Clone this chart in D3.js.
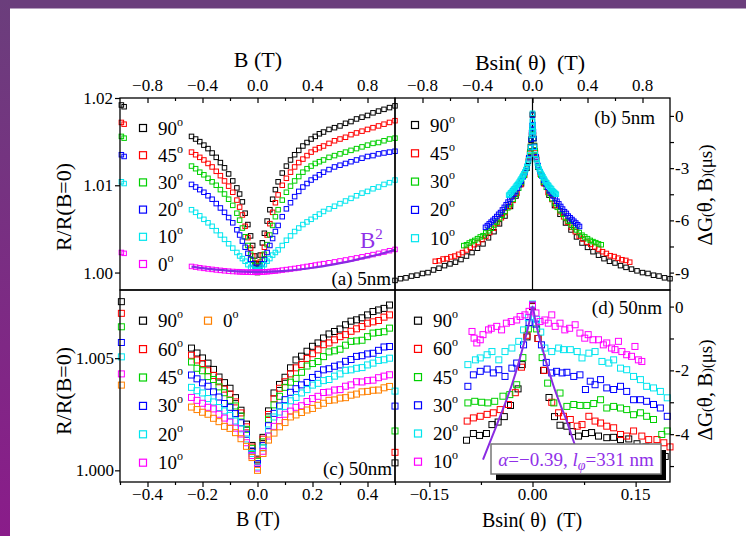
<!DOCTYPE html>
<html>
<head>
<meta charset="utf-8">
<script src="https://cdn.jsdelivr.net/npm/d3@7/dist/d3.min.js"></script>
<style>
html,body{margin:0;padding:0;background:#fff;}
svg{display:block;}
text{font-family:"Liberation Serif","Times New Roman",Times,serif;}
</style>
</head>
<body>
<svg id="chart" width="746" height="536"></svg>
<script>
// ================= DATA =================
// Panel (a) 5 nm : R/R(B=0) vs B ; values stored as (R/R0 - 1) x 1000
const aField = [-0.99,-0.97,-0.48,-0.45,-0.42,-0.39,-0.36,-0.33,-0.30,-0.27,-0.24,-0.21,-0.18,-0.15,-0.13,-0.11,-0.09,-0.07,-0.05,-0.035,-0.02,-0.01,0,0.01,0.02,0.035,0.05,0.07,0.09,0.11,0.13,0.15,0.18,0.21,0.24,0.27,0.30,0.33,0.36,0.39,0.42,0.45,0.48,0.52,0.56,0.60,0.64,0.68,0.72,0.76,0.80,0.84,0.88,0.92,0.96,1.00];
const a90 = [19.2,19.0,15.6,15.3,15.0,14.6,14.2,13.7,13.2,12.6,12.0,11.3,10.5,9.7,9.0,8.1,6.8,5.5,4.2,3.1,1.9,1.0,0.0,1.0,2.0,3.4,4.5,5.9,7.2,8.4,9.5,10.4,11.4,12.2,12.9,13.5,14.0,14.5,14.9,15.3,15.6,15.9,16.1,16.4,16.6,16.8,17.1,17.3,17.6,17.8,18.0,18.3,18.5,18.7,18.9,19.1];
const a45 = [17.2,17.0,13.8,13.5,13.2,12.9,12.5,12.1,11.6,11.1,10.5,9.9,9.2,8.3,7.5,6.6,5.3,4.0,2.8,1.9,1.1,0.5,0.1,0.6,1.2,2.0,2.9,4.3,5.6,6.9,8.0,8.9,10.0,10.8,11.5,12.1,12.6,13.0,13.4,13.8,14.1,14.3,14.5,14.8,15.1,15.3,15.5,15.8,16.0,16.2,16.4,16.6,16.8,17.0,17.2,17.4];
const a30 = [15.6,15.4,12.2,11.9,11.5,11.2,10.8,10.4,10.0,9.5,9.0,8.4,7.7,6.8,6.0,5.1,4.1,3.1,2.1,1.4,0.8,0.4,0.2,0.4,0.8,1.4,2.1,3.2,4.3,5.4,6.4,7.2,8.3,9.2,9.9,10.5,11.0,11.5,11.9,12.2,12.5,12.7,12.9,13.2,13.4,13.6,13.8,14.0,14.2,14.4,14.6,14.8,14.9,15.1,15.3,15.4];
const a20 = [13.5,13.3,10.1,9.8,9.5,9.2,8.8,8.4,7.9,7.4,6.9,6.3,5.7,4.9,4.3,3.6,2.9,2.2,1.5,1.0,0.6,0.3,0.15,0.3,0.6,1.0,1.5,2.3,3.1,3.9,4.7,5.4,6.4,7.3,8.0,8.7,9.3,9.8,10.2,10.6,10.9,11.2,11.5,11.8,12.1,12.3,12.5,12.7,12.9,13.1,13.3,13.4,13.6,13.7,13.8,13.9];
const a10 = [10.4,10.2,7.2,6.9,6.5,6.1,5.7,5.3,4.8,4.3,3.8,3.3,2.8,2.3,1.9,1.6,1.3,0.9,0.6,0.4,0.3,0.2,0.2,0.25,0.35,0.6,0.9,1.3,1.6,2.0,2.3,2.6,3.1,3.7,4.2,4.7,5.1,5.5,5.8,6.1,6.4,6.7,7.0,7.3,7.6,7.9,8.2,8.5,8.8,9.1,9.3,9.6,9.8,10.1,10.3,10.6];
const a0 = [2.3,2.2,0.7,0.62,0.55,0.48,0.42,0.36,0.3,0.25,0.2,0.16,0.12,0.1,0.08,0.06,0.05,0.04,0.03,0.03,0.03,0.03,0.03,0.04,0.05,0.06,0.07,0.09,0.12,0.15,0.18,0.22,0.28,0.34,0.4,0.47,0.54,0.62,0.7,0.78,0.86,0.94,1.02,1.12,1.22,1.33,1.44,1.56,1.68,1.8,1.93,2.06,2.2,2.35,2.5,2.65];
const aFitField = [-0.48,-0.4,-0.3,-0.2,-0.1,0,0.1,0.2,0.3,0.4,0.5,0.6,0.7,0.8,0.9,1.0];
const aFitVal = [0.68,0.5,0.33,0.2,0.11,0.07,0.1,0.2,0.35,0.55,0.8,1.08,1.4,1.76,2.16,2.6];
const aLabels = ["90","45","30","20","10","0"];

// Panel (b) 5 nm : ΔG(θ,B) (μS) vs B·sinθ ; field grid B (T), angle θ (deg)
const bAngles = [90,45,30,20,10];
const bField = [-1,-0.96,-0.92,-0.88,-0.84,-0.8,-0.76,-0.72,-0.68,-0.64,-0.6,-0.56,-0.52,-0.48,-0.44,-0.4,-0.36,-0.32,-0.28,-0.24,-0.2,-0.16,-0.12,-0.08,-0.04,-0.03,-0.02,-0.01,0,0.01,0.02,0.03,0.04,0.08,0.12,0.16,0.2,0.24,0.28,0.32,0.36,0.4,0.44,0.48,0.52,0.56,0.6,0.64,0.68,0.72,0.76,0.8,0.84,0.88,0.92,0.96,1];
const b90 = [-9.45,-9.35,-9.3,-9.2,-9.15,-9.05,-9.0,-8.85,-8.75,-8.6,-8.5,-8.4,-8.25,-8.05,-7.85,-7.6,-7.35,-7.0,-6.65,-6.2,-5.75,-5.2,-4.6,-3.9,-3.0,-2.6,-2.1,-1.4,0.1,-1.3,-2.0,-2.5,-2.95,-3.85,-4.55,-5.15,-5.65,-6.15,-6.55,-6.95,-7.3,-7.55,-7.8,-8.0,-8.2,-8.35,-8.45,-8.6,-8.7,-8.8,-8.9,-9.0,-9.05,-9.15,-9.2,-9.3,-9.35];
const b45 = [-8.35,-8.32,-8.22,-8.2,-8.1,-8.05,-7.95,-7.85,-7.7,-7.55,-7.4,-7.27,-7.1,-6.92,-6.7,-6.45,-6.15,-5.85,-5.55,-5.2,-4.85,-4.45,-3.95,-3.4,-2.45,-2.15,-1.75,-1.1,0.05,-1.1,-1.7,-2.1,-2.4,-3.35,-3.9,-4.4,-4.8,-5.15,-5.5,-5.8,-6.1,-6.4,-6.65,-6.9,-7.07,-7.25,-7.38,-7.52,-7.65,-7.8,-7.9,-8.03,-8.08,-8.17,-8.26,-8.3,-8.4];
const b30 = [-7.45,-7.4,-7.3,-7.22,-7.15,-7.05,-6.95,-6.88,-6.72,-6.6,-6.45,-6.27,-6.1,-5.9,-5.7,-5.5,-5.28,-5.05,-4.78,-4.5,-4.15,-3.8,-3.42,-2.92,-2.05,-1.75,-1.3,-0.8,0.05,-0.8,-1.3,-1.7,-2.0,-2.9,-3.4,-3.8,-4.1,-4.45,-4.75,-5.0,-5.25,-5.45,-5.65,-5.85,-6.05,-6.25,-6.4,-6.55,-6.7,-6.85,-6.95,-7.05,-7.15,-7.22,-7.28,-7.35,-7.4];
const b20 = [-6.4,-6.3,-6.2,-6.1,-6.0,-5.9,-5.78,-5.65,-5.55,-5.4,-5.25,-5.1,-4.95,-4.8,-4.65,-4.5,-4.35,-4.15,-3.95,-3.75,-3.5,-3.25,-2.9,-2.4,-1.8,-1.35,-0.95,-0.55,0.05,-0.5,-0.9,-1.3,-1.75,-2.35,-2.85,-3.2,-3.45,-3.7,-3.9,-4.1,-4.3,-4.45,-4.6,-4.75,-4.9,-5.05,-5.2,-5.35,-5.5,-5.6,-5.75,-5.85,-5.95,-6.05,-6.15,-6.25,-6.35];
const b10 = [-4.55,-4.5,-4.42,-4.38,-4.3,-4.22,-4.18,-4.1,-4.02,-3.95,-3.88,-3.8,-3.7,-3.62,-3.52,-3.42,-3.32,-3.22,-3.08,-2.92,-2.72,-2.52,-2.22,-1.82,-1.12,-0.9,-0.6,-0.3,0.15,-0.3,-0.6,-0.9,-1.1,-1.8,-2.2,-2.5,-2.7,-2.9,-3.05,-3.2,-3.3,-3.4,-3.5,-3.6,-3.7,-3.8,-3.85,-3.95,-4.0,-4.1,-4.15,-4.2,-4.3,-4.35,-4.4,-4.45,-4.5];

// Panel (c) 50 nm : R/R(B=0) vs B ; values stored as (R/R0 - 1) x 1000
const cField = [-0.495,-0.24,-0.22,-0.20,-0.18,-0.16,-0.14,-0.12,-0.10,-0.08,-0.06,-0.04,-0.02,0,0.02,0.04,0.06,0.08,0.10,0.12,0.14,0.16,0.18,0.20,0.22,0.24,0.26,0.28,0.30,0.32,0.34,0.36,0.38,0.40,0.42,0.44,0.46,0.48];
const c90 = [7.52,5.45,5.23,5.01,4.78,4.50,4.16,3.91,3.66,3.24,2.68,2.06,1.11,0.5,1.47,2.65,3.45,3.83,4.15,4.57,4.92,5.09,5.31,5.53,5.68,5.90,6.08,6.19,6.30,6.49,6.65,6.71,6.80,6.93,7.08,7.15,7.22,7.37];
const c60 = [7.0,5.13,4.92,4.76,4.44,4.23,3.95,3.62,3.40,3.05,2.56,1.94,1.04,0.45,1.39,2.49,3.19,3.66,3.95,4.30,4.57,4.72,4.99,5.20,5.37,5.60,5.68,5.82,5.96,6.05,6.20,6.31,6.41,6.56,6.62,6.68,6.83,6.93];
const c45 = [6.4,4.83,4.55,4.44,4.18,4.05,3.72,3.46,3.12,2.87,2.42,1.83,0.98,0.4,1.27,2.28,2.92,3.30,3.70,3.93,4.10,4.37,4.65,4.76,4.85,5.07,5.28,5.33,5.40,5.58,5.75,5.77,5.80,5.96,6.12,6.15,6.18,6.34];
const c30 = [5.7,4.25,4.08,3.90,3.75,3.50,3.27,2.98,2.81,2.53,2.12,1.61,0.86,0.3,1.10,1.99,2.54,2.87,3.15,3.48,3.64,3.81,3.92,4.14,4.28,4.48,4.53,4.64,4.70,4.86,4.94,5.08,5.11,5.19,5.22,5.35,5.50,5.52];
const c20 = [5.06,3.70,3.55,3.45,3.20,3.05,2.80,2.65,2.45,2.20,1.85,1.40,0.75,0.15,1.0,1.80,2.38,2.60,2.85,3.10,3.25,3.45,3.60,3.80,3.88,4.00,4.05,4.20,4.30,4.46,4.48,4.55,4.58,4.70,4.78,4.90,4.93,5.0];
const c10 = [4.3,3.25,3.12,2.99,2.81,2.74,2.50,2.33,2.15,1.88,1.62,1.23,0.66,0.1,0.85,1.53,1.96,2.22,2.50,2.64,2.81,2.88,3.07,3.20,3.30,3.47,3.49,3.58,3.60,3.75,3.81,3.95,3.94,4.00,4.02,4.13,4.20,4.26];
const c0 = [3.8,2.82,2.71,2.59,2.50,2.32,2.17,1.96,1.87,1.68,1.41,1.07,0.57,0.0,0.75,1.35,1.66,1.94,2.13,2.38,2.47,2.58,2.69,2.76,2.90,2.99,3.12,3.14,3.22,3.24,3.35,3.40,3.50,3.52,3.57,3.58,3.68,3.74];

// Panel (d) 50 nm : ΔG(θ,B) (μS) vs B·sinθ (T)
const d90x = [-0.2,-0.096,-0.086,-0.077,-0.067,-0.059,-0.05,-0.041,-0.032,-0.021,-0.015,-0.008,0,0.008,0.016,0.024,0.032,0.040,0.050,0.058,0.067,0.077,0.086,0.096,0.108,0.118,0.128,0.140,0.152,0.165,0.178,0.193];
const d90y = [-4.9,-4.19,-3.98,-4.04,-3.98,-3.7,-3.62,-3.45,-3.1,-2.58,-1.82,-0.95,0,-1.0,-2.0,-2.85,-3.45,-3.72,-3.75,-3.92,-4.06,-3.98,-3.95,-4.06,-4.11,-4.1,-4.17,-4.15,-4.3,-4.4,-4.5,-4.7];
const d60x = [-0.2,-0.095,-0.086,-0.076,-0.066,-0.057,-0.047,-0.035,-0.025,-0.016,-0.008,0,0.008,0.017,0.028,0.038,0.045,0.055,0.065,0.072,0.082,0.091,0.099,0.108,0.118,0.128,0.137,0.147,0.159,0.169,0.181,0.191,0.2];
const d60y = [-4.57,-3.59,-3.49,-3.44,-3.38,-3.33,-3.23,-3.07,-2.7,-1.9,-0.9,0.02,-1.0,-2.0,-3.0,-3.33,-3.44,-3.54,-3.75,-3.7,-3.44,-3.59,-3.65,-3.75,-3.8,-4.01,-4.06,-3.9,-4.06,-4.17,-4.17,-4.27,-4.4];
const d45x = [-0.2,-0.094,-0.084,-0.074,-0.065,-0.055,-0.043,-0.033,-0.023,-0.014,-0.006,0,0.006,0.014,0.022,0.031,0.040,0.050,0.060,0.069,0.079,0.089,0.099,0.108,0.118,0.128,0.137,0.147,0.157,0.166,0.176,0.188,0.196];
const d45y = [-3.9,-3.02,-2.97,-3.0,-3.02,-2.97,-2.81,-2.76,-2.45,-1.6,-0.7,0.05,-0.7,-1.6,-2.4,-3.02,-2.71,-3.13,-3.07,-3.1,-3.1,-3.04,-2.92,-3.18,-3.13,-3.18,-3.23,-3.39,-3.33,-3.44,-3.54,-4.01,-3.9];
const d30x = [-0.2,-0.094,-0.086,-0.076,-0.066,-0.057,-0.049,-0.040,-0.030,-0.023,-0.013,-0.005,0,0.005,0.013,0.020,0.028,0.035,0.043,0.050,0.060,0.069,0.077,0.084,0.091,0.099,0.108,0.118,0.128,0.137,0.147,0.157,0.166,0.176,0.186,0.196];
const d30y = [-3.12,-2.5,-2.14,-2.03,-1.96,-2.08,-1.98,-2.19,-1.93,-1.77,-1.2,-0.5,0.05,-0.55,-1.2,-1.75,-2.08,-2.03,-2.08,-2.06,-2.19,-2.14,-2.6,-2.34,-2.45,-2.29,-2.55,-2.6,-2.5,-2.66,-2.92,-2.92,-2.97,-3.07,-3.18,-3.44];
const d20x = [-0.2,-0.094,-0.083,-0.076,-0.066,-0.059,-0.049,-0.040,-0.030,-0.020,-0.013,-0.006,0,0.006,0.012,0.018,0.028,0.038,0.045,0.055,0.065,0.072,0.082,0.091,0.101,0.111,0.118,0.128,0.137,0.147,0.157,0.166,0.176,0.186,0.196];
const d20y = [-2.65,-1.82,-1.67,-1.61,-1.51,-1.41,-1.67,-1.41,-1.3,-1.09,-0.73,-0.35,0.08,-0.4,-0.8,-1.3,-1.41,-1.3,-1.35,-1.35,-1.41,-1.61,-1.46,-1.41,-1.72,-1.77,-1.67,-1.93,-1.98,-2.19,-2.29,-2.5,-2.55,-2.66,-2.86];
const d10x = [-0.088,-0.085,-0.081,-0.076,-0.072,-0.064,-0.060,-0.052,-0.045,-0.038,-0.031,-0.023,-0.018,-0.011,-0.005,0,0.005,0.011,0.018,0.023,0.028,0.033,0.040,0.047,0.054,0.062,0.069,0.076,0.081,0.088,0.096,0.103,0.108,0.115,0.120,0.125,0.130,0.137,0.144,0.149,0.154,0.159];
const d10y = [-0.78,-0.99,-1.14,-1.04,-0.88,-0.73,-0.68,-0.62,-0.73,-0.52,-0.47,-0.42,-0.31,-0.26,-0.15,0.05,-0.2,-0.47,-0.42,-0.52,-0.26,-0.62,-0.52,-0.73,-0.68,-0.57,-0.83,-0.99,-0.88,-1.04,-1.04,-1.2,-1.14,-1.3,-1.35,-1.09,-1.41,-1.51,-1.56,-1.25,-1.67,-1.72];
const dFitX = [-0.072,-0.06,-0.05,-0.04,-0.03,-0.02,-0.013,-0.008,-0.004,0,0.004,0.008,0.013,0.02,0.03,0.04,0.05,0.057,0.066];
const dFitY = [-4.8,-4.15,-3.6,-3.05,-2.45,-1.75,-1.2,-0.8,-0.42,0,-0.42,-0.8,-1.2,-1.75,-2.45,-3.05,-3.6,-4.05,-4.6];
const cLabels = ["90","60","45","30","20","10","0"];

// tick values
const aTopTicks = [-0.8,-0.4,0.0,0.4,0.8];
const aTopMinor = [-0.6,-0.2,0.2,0.6];
const aLeftTicks = [1.00,1.01,1.02];
const bRightTicks = [0,-3,-6,-9];
const bRightMinor = [-1.5,-4.5,-7.5];
const cBottomTicks = [-0.4,-0.2,0.0,0.2,0.4];
const cBottomMinor = [-0.5,-0.3,-0.1,0.1,0.3,0.5];
const cLeftTicks = [1.000,1.005];
const dBottomTicks = [-0.15,0.00,0.15];
const dBottomMinor = [-0.075,0.075];
const dRightTicks = [0,-2,-4];
const dRightMinor = [-1,-3,-5];

// ================= DRAWING =================
const svg = d3.select("#chart");
const BLACK="#000000", RED="#ff0000", GREEN="#00d000", BLUE="#0000ff", CYAN="#00e5ee", MAG="#ff00ff", ORANGE="#ff8000", PURPLE="#9030e8";

// page decoration
const defs = svg.append("defs");
const lg = defs.append("linearGradient").attr("id","lband").attr("x1",0).attr("y1",0).attr("x2",0).attr("y2",1);
lg.append("stop").attr("offset","0%").attr("stop-color","#6b3e7c");
lg.append("stop").attr("offset","100%").attr("stop-color","#8a1c8a");
svg.append("rect").attr("x",0).attr("y",0).attr("width",746).attr("height",536).attr("fill","#fff");
svg.append("rect").attr("x",0).attr("y",0).attr("width",746).attr("height",8.5).attr("fill","#6b3e7c");
svg.append("rect").attr("x",0).attr("y",0).attr("width",10).attr("height",536).attr("fill","url(#lband)");

// scales
const xa = d3.scaleLinear().domain([-1,1]).range([120,395]);
const ya = d3.scaleLinear().domain([0.998,1.02]).range([290,98]);
const xb = d3.scaleLinear().domain([-1,1]).range([395,670]);
const yb = d3.scaleLinear().domain([-10,1.03]).range([290,98]);
const xc = d3.scaleLinear().domain([-0.5,0.5]).range([120,395]);
const yc = d3.scaleLinear().domain([0.99948,1.00804]).range([482,290]);
const xd = d3.scaleLinear().domain([-0.2,0.2]).range([395,670]);
const yd = d3.scaleLinear().domain([-5.5,0.52]).range([482,290]);

function tickAxis(gen, scale, vals, size, tx, ty){
  const g = svg.append("g").attr("transform",`translate(${tx},${ty})`)
    .call(gen(scale).tickValues(vals).tickSizeInner(size).tickSizeOuter(0).tickFormat(""));
  g.select(".domain").remove();
  g.selectAll("line").attr("stroke","#000").attr("stroke-width",1.2);
}
function label(x,y,str,size,anchor,fill){
  return svg.append("text").attr("x",x).attr("y",y).attr("font-size",size)
    .attr("text-anchor",anchor||"middle").attr("fill",fill||"#000").text(str);
}
function squares(xs, ys, xS, yS, color, size){
  const data = xs.map((x,i)=>[x,ys[i]]);
  svg.append("g").selectAll("rect").data(data).join("rect")
    .attr("x",d=>xS(d[0])-size/2).attr("y",d=>yS(d[1])-size/2)
    .attr("width",size).attr("height",size)
    .attr("fill","none").attr("stroke",color).attr("stroke-width",1);
}
function legendRow(x,y,color,lab){
  svg.append("rect").attr("x",x-3.5).attr("y",y-3.5).attr("width",7).attr("height",7)
    .attr("fill","none").attr("stroke",color).attr("stroke-width",1.2);
  const t = svg.append("text").attr("x",x+15).attr("y",y+6.5).attr("font-size",19);
  t.append("tspan").text(lab);
  t.append("tspan").attr("font-size",12).attr("dy",-9).text("o");
}
const fmt1 = d3.format(".1f"), fmt2 = d3.format(".2f"), fmt3 = d3.format(".3f");

// ---------- Panel (a) ----------
const aSeries = [[a90,BLACK],[a45,RED],[a30,GREEN],[a20,BLUE],[a10,CYAN],[a0,MAG]];
aSeries.forEach(([v,c])=> squares(aField, v.map(d=>1+d/1000), xa, ya, c, 4.5));
svg.append("path").datum(aFitField.map((b,i)=>[b,1+aFitVal[i]/1000]))
  .attr("d", d3.line().x(d=>xa(d[0])).y(d=>ya(d[1])).curve(d3.curveMonotoneX))
  .attr("fill","none").attr("stroke","#8a2be2").attr("stroke-width",2.2);
aSeries.forEach(([v,c],i)=> legendRow(143, 128+i*27.2, c, aLabels[i]));
const b2 = svg.append("text").attr("x",360).attr("y",248).attr("font-size",23).attr("fill",PURPLE);
b2.append("tspan").text("B"); b2.append("tspan").attr("font-size",15).attr("dy",-9).text("2");
label(391,285,"(a) 5nm",19,"end");

// ---------- Panel (b) ----------
svg.append("line").attr("x1",xb(0)).attr("x2",xb(0)).attr("y1",98).attr("y2",290).attr("stroke","#000").attr("stroke-width",1.2);
const bSeries = [[b90,BLACK],[b45,RED],[b30,GREEN],[b20,BLUE],[b10,CYAN]];
bSeries.forEach(([v,c],i)=>{
  const s = Math.sin(bAngles[i]*Math.PI/180);
  squares(bField.map(B=>B*s), v, xb, yb, c, 4.5);
});
bSeries.forEach(([v,c],i)=> legendRow(415, 125+i*28.3, c, String(bAngles[i])));
label(655,124,"(b) 5nm",19,"end");

// ---------- Panel (c) ----------
const cSeries = [[c90,BLACK],[c60,RED],[c45,GREEN],[c30,BLUE],[c20,CYAN],[c10,MAG],[c0,ORANGE]];
cSeries.forEach(([v,c])=> squares(cField, v.map(d=>1+d/1000), xc, yc, c, 6));
cSeries.slice(0,6).forEach(([v,c],i)=> legendRow(143, 320.7+i*28.4, c, cLabels[i]));
legendRow(208, 320.7, ORANGE, cLabels[6]);
label(392,475,"(c) 50nm",19,"end");

// ---------- Panel (d) ----------
const dSeries = [[d90x,d90y,BLACK],[d60x,d60y,RED],[d45x,d45y,GREEN],[d30x,d30y,BLUE],[d20x,d20y,CYAN],[d10x,d10y,MAG]];
dSeries.forEach(([x,y,c])=> squares(x, y, xd, yd, c, 6));
svg.append("path").datum(dFitX.map((b,i)=>[b,dFitY[i]]))
  .attr("d", d3.line().x(d=>xd(d[0])).y(d=>yd(d[1])).curve(d3.curveMonotoneX))
  .attr("fill","none").attr("stroke","#8a2be2").attr("stroke-width",2);
dSeries.forEach(([x,y,c],i)=> legendRow(418, 320.7+i*28.2, c, cLabels[i]));
label(662,314,"(d) 50nm",19,"end");
// annotation box
svg.append("rect").attr("x",496).attr("y",450).attr("width",170).attr("height",30).attr("fill","#000");
svg.append("rect").attr("x",491).attr("y",444).attr("width",170).attr("height",30).attr("fill","#fff").attr("stroke","#777").attr("stroke-width",1.5);
const ann = svg.append("text").attr("x",576).attr("y",466).attr("font-size",19).attr("text-anchor","middle").attr("fill",PURPLE);
ann.append("tspan").attr("font-style","italic").text("α");
ann.append("tspan").text("=−0.39, ");
ann.append("tspan").attr("font-style","italic").text("l");
ann.append("tspan").attr("font-style","italic").attr("font-size",14).attr("dy",4).text("φ");
ann.append("tspan").attr("dy",-4).text("=331 nm");

// ---------- frames ----------
[[120,98,275,192],[395,98,275,192],[120,290,275,192],[395,290,275,192]].forEach(([x,y,w,h])=>
  svg.append("rect").attr("x",x).attr("y",y).attr("width",w).attr("height",h).attr("fill","none").attr("stroke","#000").attr("stroke-width",1.3));

// ---------- ticks ----------
tickAxis(d3.axisTop, xa, aTopTicks, -5, 0, 98);
tickAxis(d3.axisTop, xa, aTopMinor, -3, 0, 98);
tickAxis(d3.axisTop, xb, aTopTicks, -5, 0, 98);
tickAxis(d3.axisTop, xb, aTopMinor, -3, 0, 98);
tickAxis(d3.axisLeft, ya, aLeftTicks, 5, 120, 0);
tickAxis(d3.axisRight, yb, bRightTicks, 4, 670, 0);
tickAxis(d3.axisRight, yb, bRightMinor, 4, 670, 0);
tickAxis(d3.axisBottom, xc, cBottomTicks, 5, 0, 482);
tickAxis(d3.axisBottom, xc, cBottomMinor, 3, 0, 482);
tickAxis(d3.axisLeft, yc, cLeftTicks, 5, 120, 0);
tickAxis(d3.axisBottom, xd, dBottomTicks, 5, 0, 482);
tickAxis(d3.axisBottom, xd, dBottomMinor, 3, 0, 482);
tickAxis(d3.axisRight, yd, dRightTicks, 4, 670, 0);
tickAxis(d3.axisRight, yd, dRightMinor, 4, 670, 0);

// ---------- tick labels ----------
aTopTicks.forEach(v=> label(xa(v), 91, fmt1(v), 17));
aTopTicks.forEach(v=> label(xb(v), 91, fmt1(v), 17));
aLeftTicks.forEach(v=> label(113, ya(v)+6, fmt2(v), 17, "end"));
bRightTicks.forEach(v=> label(675, yb(v)+6, String(v), 17, "start"));
cBottomTicks.forEach(v=> label(xc(v), 500, fmt1(v), 17));
cLeftTicks.forEach(v=> label(114, yc(v)+6, fmt3(v), 17, "end"));
dBottomTicks.forEach(v=> label(xd(v), 500, fmt2(v), 17));
dRightTicks.forEach(v=> label(675, yd(v)+6, String(v), 17, "start"));

// ---------- axis titles ----------
label(258,67,"B (T)",22);
label(530,70,"Bsin( θ)  (T)",22).style("white-space","pre");
label(258,526,"B (T)",20);
label(532,527,"Bsin( θ)  (T)",20).style("white-space","pre");
svg.append("text").attr("transform","translate(71,207) rotate(-90)").attr("text-anchor","middle").attr("font-size",22).text("R/R(B=0)");
svg.append("text").attr("transform","translate(71,391) rotate(-90)").attr("text-anchor","middle").attr("font-size",22).text("R/R(B=0)");
function dgLabel(x,y){
  const t = svg.append("text").attr("transform",`translate(${x},${y}) rotate(-90)`).attr("text-anchor","middle").attr("font-size",21);
  t.append("tspan").text("ΔG");
  t.append("tspan").attr("font-size",14).text("(");
  t.append("tspan").text("θ, B");
  t.append("tspan").attr("font-size",14).text(")(");
  t.append("tspan").attr("font-size",19).text("μs)");
}
dgLabel(712,195);
dgLabel(712,390);
</script>
</body>
</html>
